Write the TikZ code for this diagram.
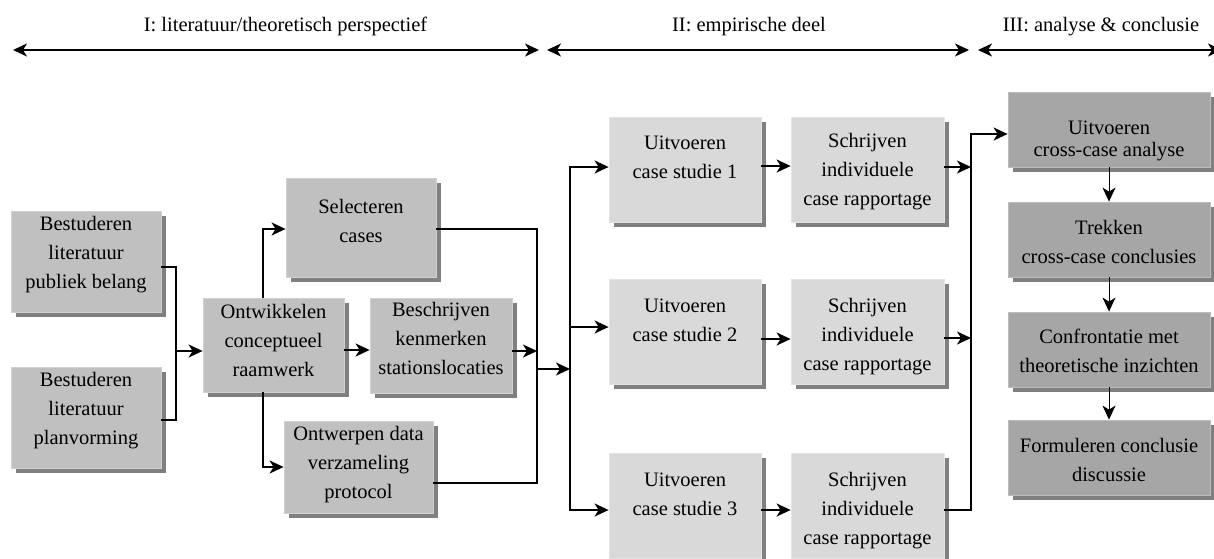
\documentclass[tikz,border=0pt]{standalone}
\usepackage{fontspec}
\setmainfont{Liberation Serif}
\usetikzlibrary{arrows.meta,calc,shadows}

\definecolor{phaseA}{HTML}{C0C0C0}
\definecolor{phaseB}{HTML}{D9D9D9}
\definecolor{phaseC}{HTML}{A6A6A6}
\definecolor{shade}{HTML}{808080}

\tikzset{
  card/.style={rectangle, inner sep=0pt, line width=0.8pt,
    drop shadow={shadow xshift=5pt, shadow yshift=-5pt, fill=shade, opacity=1}},
  cardA/.style={card, fill=phaseA, draw=phaseA!75!white},
  cardB/.style={card, fill=phaseB, draw=phaseB!70!white},
  cardC/.style={card, fill=phaseC, draw=phaseC!75!white},
  lbl/.style={align=center, inner sep=0pt, font=\fontsize{20.5}{29}\selectfont,
    execute at begin node=\strut, execute at end node=\strut},
  tip/.tip={Stealth[length=14pt, width=13pt, inset=4pt]},
  conn/.style={line width=1.8pt},
  arr/.style={conn, -tip},
  arrthin/.style={line width=1pt, -tip},
  span/.style={line width=1.5pt, tip-tip},
}

\begin{document}
\begin{tikzpicture}[x=1pt, y=-1pt]
\useasboundingbox (0,0) rectangle (1214,558);
\clip (0,0) rectangle (1214,558);

% phase headers and their spans
\node[lbl] (hI)   at (285.5,26) {I: literatuur/theoretisch perspectief};
\node[lbl] (hII)  at (749,26)   {II: empirische deel};
\node[lbl] (hIII) at (1101,26)  {III: analyse \& conclusie};
\coordinate (pIa) at (13,50);   \coordinate (pIb) at (539,50);
\coordinate (pIIa) at (547,50); \coordinate (pIIb) at (969,50);
\coordinate (pIIIa) at (978,50);\coordinate (pIIIb) at (1222,50);
\draw[span] (pIa) -- (pIb);
\draw[span] (pIIa) -- (pIIb);
\draw[span] (pIIIa) -- (pIIIb);

% phase I: literature and theory
\node[cardA, minimum width=150pt, minimum height=101pt] (lit1) at (86,261.5) {};
\node[lbl] (lit1t) at (86,257) {Bestuderen\\literatuur\\publiek belang};
\node[cardA, minimum width=150pt, minimum height=101pt] (lit2) at (86,417.5) {};
\node[lbl] (lit2t) at (86,413) {Bestuderen\\literatuur\\planvorming};
\node[cardA, minimum width=141pt, minimum height=94pt] (ont) at (273.5,345) {};
\node[lbl] (ontt) at (273.5,345) {Ontwikkelen\\conceptueel\\raamwerk};
\node[cardA, minimum width=150pt, minimum height=99pt] (sel) at (361,227.5) {};
\node[lbl] (selt) at (361,225) {Selecteren\\cases};
\node[cardA, minimum width=142pt, minimum height=95pt] (bes) at (441,345.5) {};
\node[lbl] (best) at (441,343) {Beschrijven\\kenmerken\\stationslocaties};
\node[cardA, minimum width=149pt, minimum height=92pt] (ontw) at (358.5,467) {};
\node[lbl] (ontwt) at (358.5,467) {Ontwerpen data\\verzameling\\protocol};

% phase II: case studies
\node[cardB, minimum width=152pt, minimum height=105pt] (uit1) at (685,169.5) {};
\node[lbl] (uit1t) at (685,161.5) {Uitvoeren\\case studie 1};
\node[cardB, minimum width=152pt, minimum height=105pt] (uit2) at (685,331.5) {};
\node[lbl] (uit2t) at (685,324.5) {Uitvoeren\\case studie 2};
\node[cardB, minimum width=152pt, minimum height=105pt] (uit3) at (685,505.5) {};
\node[lbl] (uit3t) at (685,499) {Uitvoeren\\case studie 3};
\node[cardB, minimum width=153pt, minimum height=105pt] (sch1) at (867.5,169.5) {};
\node[lbl] (sch1t) at (867.5,174) {Schrijven\\individuele\\case rapportage};
\node[cardB, minimum width=153pt, minimum height=105pt] (sch2) at (867.5,331.5) {};
\node[lbl] (sch2t) at (867.5,339) {Schrijven\\individuele\\case rapportage};
\node[cardB, minimum width=153pt, minimum height=105pt] (sch3) at (867.5,505.5) {};
\node[lbl] (sch3t) at (867.5,513) {Schrijven\\individuele\\case rapportage};

% phase III: analysis and conclusions
\node[cardC, minimum width=202pt, minimum height=75pt] (ana) at (1109,129.5) {};
\node[lbl] (anat) at (1109,143) {Uitvoeren\\[-7pt]cross-case analyse};
\node[cardC, minimum width=202pt, minimum height=75pt] (tre) at (1109,239.5) {};
\node[lbl] (tret) at (1109,246) {Trekken\\cross-case conclusies};
\node[cardC, minimum width=202pt, minimum height=75pt] (con) at (1109,349.5) {};
\node[lbl] (cont) at (1109,355) {Confrontatie met\\theoretische inzichten};
\node[cardC, minimum width=202pt, minimum height=75pt] (frm) at (1109,457.5) {};
\node[lbl] (frmt) at (1109,464) {Formuleren conclusie\\discussie};

% literature studies feed the framework
\coordinate (j0) at (176,351);
\draw[conn] ($(lit1.east)+(0,5.5)$) -| (j0) |- ($(lit2.east)+(0,2.5)$);
\draw[arr] (j0) -- (j0 -| ont.west);

% framework branches
\draw[arr] ($(ont.north)+(-10.5,0)$) |- ($(sel.west)+(0,1.5)$);
\draw[arr] ($(ont.south)+(-10.5,0)$) |- (ontw.west);
\draw[arr] ($(ont.east)+(0,5)$) -- ($(bes.west)+(0,4.5)$);

% preparation merges into the case studies
\coordinate (j1) at (537,369);
\draw[conn] ($(sel.east)+(0,1.5)$) -| (j1) |- ($(ontw.east)+(0,16)$);
\coordinate (b1) at ($(bes.east)+(0,5.5)$);
\draw[arr] (b1) -- (b1 -| j1);
\coordinate (j2) at (570,369);
\draw[arr] (j1) -- (j2);
\draw[arr] (j2) |- ($(uit1.west)+(0,-2.5)$);
\draw[arr] (j2) |- ($(uit2.west)+(0,-4.5)$);
\draw[arr] (j2) |- ($(uit3.west)+(0,4.5)$);

% case study to case report
\draw[arr] ($(uit1.east)+(0,-3.5)$) -- ($(sch1.west)+(0,-3.5)$);
\draw[arr] ($(uit2.east)+(0,7.5)$) -- ($(sch2.west)+(0,7.5)$);
\draw[arr] ($(uit3.east)+(0,4.5)$) -- ($(sch3.west)+(0,4.5)$);

% reports merge into the cross-case analysis
\coordinate (j3) at (971,134);
\draw[arr] ($(sch3.east)+(0,4.5)$) -| (j3) -- ($(ana.west)+(0,4.5)$);
\coordinate (s1) at ($(sch1.east)+(0,-2.5)$);
\draw[arr] (s1) -- (s1 -| j3);
\coordinate (s2) at ($(sch2.east)+(0,6.5)$);
\draw[arr] (s2) -- (s2 -| j3);

% analysis chain
\draw[arrthin] (ana.south) -- (tre.north);
\draw[arrthin] (tre.south) -- (con.north);
\draw[arrthin] (con.south) -- (frm.north);
\end{tikzpicture}
\end{document}
